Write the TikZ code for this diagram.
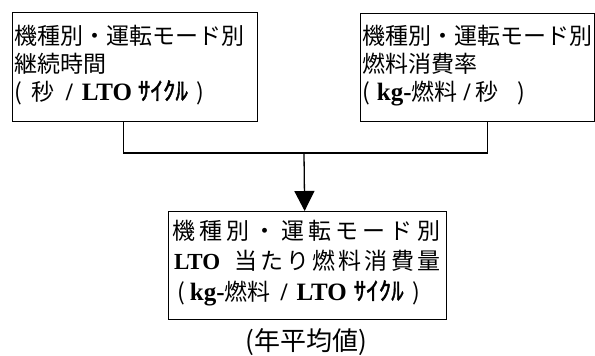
\documentclass[tikz,border=0pt]{standalone}
\usepackage{fontspec}
\setmainfont{Liberation Serif}
\newfontfamily\jp{Noto Sans CJK JP}
\newfontfamily\jpk{Noto Sans CJK JP}[FakeBold=1.5]
\newcommand\lb[1]{{\rmfamily\bfseries #1}}
\newcommand\lbb[1]{{\rmfamily\bfseries\fontsize{25}{27}\selectfont #1}}
\newcommand\katak{{\jpk\fontsize{25}{27}\selectfont ｻｲｸﾙ}}
\usetikzlibrary{arrows.meta}
\begin{document}
\begin{tikzpicture}[x=1pt,y=-1pt,
  box/.style={draw, line width=1.3pt, inner sep=0pt, anchor=north west},
  txt/.style={anchor=base west, inner sep=0pt, font=\jp\fontsize{23}{27}\selectfont},
  conn/.style={line width=1.3pt}]
\useasboundingbox[fill=white] (0,0) rectangle (595,356);
% boxes
\node[box, minimum width=245pt, minimum height=109pt] (b1) at (12,12) {};
\node[box, minimum width=234pt, minimum height=108pt] (b2) at (360,13) {};
\node[box, minimum width=278pt, minimum height=108pt] (b3) at (168,211) {};
% box 1 text
\node[txt] (t11) at (14,45) {機種別・運転モード別};
\node[txt] (t12) at (14,72) {継続時間};
\node[txt] (t13) at (14,100) {(\hspace{10pt}秒\hspace{11pt}\lbb{/}\hspace{9pt}\lbb{LTO}\hspace{6pt}\katak\hspace{9pt})};
% box 2 text
\node[txt] (t21) at (362,45) {機種別・運転モード別};
\node[txt] (t22) at (362,72) {燃料消費率};
\node[txt] (t23) at (362,100) {(\hspace{7pt}\lbb{kg-}燃料\hspace{6pt}\lbb{/}\hspace{5pt}秒\hspace{19pt})};
% box 3 text
\node[txt] (t31) at (172,239) {\makebox[268pt][s]{機\hfill 種\hfill 別\hfill ・\hfill 運\hfill 転\hfill モ\hfill ー\hfill ド\hfill 別}};
\node[txt] (t32) at (174,269) {\makebox[266pt][s]{\lb{LTO}\hspace{14pt}当\hfill た\hfill り\hfill 燃\hfill 料\hfill 消\hfill 費\hfill 量}};
\node[txt] (t33) at (177,300) {(\hspace{5pt}\lbb{kg-}燃料\hspace{10pt}\lbb{/}\hspace{9pt}\lbb{LTO}\hspace{7pt}\katak\hspace{9pt})};
% label
\node[anchor=base, inner sep=0pt, font=\jp\fontsize{26}{28}\selectfont] (avg) at (306,350) {(年平均値)};
% connectors
\coordinate (j) at (304,153);
\draw[conn] ([xshift=-11.5pt]b1.south) |- (j) -| ([xshift=10pt]b2.south);
\draw[conn, -{Triangle[width=20pt,length=20pt]}] (j) -- ([xshift=-3pt]b3.north);
\end{tikzpicture}
\end{document}
